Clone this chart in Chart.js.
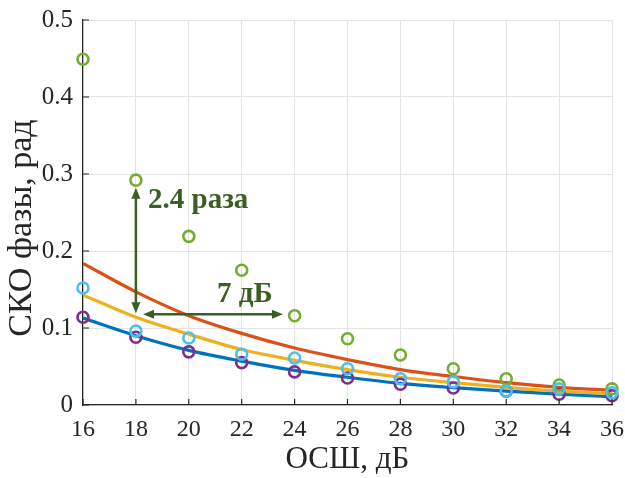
<!DOCTYPE html>
<html>
<head>
<meta charset="utf-8">
<script src="https://cdn.jsdelivr.net/npm/chart.js@4/dist/chart.umd.min.js"></script>
<style>
  html, body { margin: 0; padding: 0; background: #fff; }
  #wrap { width: 625px; height: 478px; }
</style>
</head>
<body>
<div id="wrap"><canvas id="chart"></canvas></div>
<script>
// SNR grid, dB
const snr = [16, 18, 20, 22, 24, 26, 28, 30, 32, 34, 36];

// theoretical curves
const curveRed    = [0.184, 0.147, 0.116, 0.093, 0.074, 0.059, 0.046, 0.037, 0.029, 0.023, 0.019];
const curveYellow = [0.143, 0.114, 0.092, 0.072, 0.058, 0.046, 0.036, 0.029, 0.023, 0.018, 0.0145];
const curveBlue   = [0.113, 0.090, 0.071, 0.057, 0.045, 0.036, 0.028, 0.0225, 0.018, 0.014, 0.011];

// simulated points
const simGreen  = [0.449, 0.292, 0.219, 0.175, 0.116, 0.086, 0.065, 0.047, 0.034, 0.026, 0.021];
const simCyan   = [0.152, 0.096, 0.087, 0.066, 0.061, 0.047, 0.034, 0.030, 0.018, 0.021, 0.016];
const simPurple = [0.114, 0.088, 0.069, 0.055, 0.043, 0.035, 0.027, 0.022, 0.018, 0.014, 0.012];

const yTicks = [0, 0.1, 0.2, 0.3, 0.4, 0.5];

const pts = arr => arr.map((v, i) => ({ x: snr[i], y: v }));
const serif = "'Liberation Serif', 'Times New Roman', serif";
const ink = '#262626';
const annColor = '#3b5e23';

function line(data, color) {
  return {
    type: 'line', data: pts(data), borderColor: color, borderWidth: 3.2,
    pointRadius: 0, tension: 0.4, cubicInterpolationMode: 'monotone', order: 5
  };
}
function marks(data, color, order) {
  return {
    type: 'scatter', data: pts(data), borderColor: color, backgroundColor: 'rgba(0,0,0,0)',
    pointRadius: 5.5, pointBorderWidth: 2.6, showLine: false, order: order, clip: false
  };
}

// inward tick marks on both axes, plus the y axis title
const axisExtras = {
  id: 'axisExtras',
  afterDraw(chart) {
    const { ctx, scales: { x, y } } = chart;
    ctx.save();
    ctx.strokeStyle = ink;
    ctx.lineWidth = 1.2;
    ctx.beginPath();
    snr.forEach(v => {
      const px = x.getPixelForValue(v);
      ctx.moveTo(px, y.bottom);
      ctx.lineTo(px, y.bottom - 6);
    });
    yTicks.forEach(v => {
      const py = y.getPixelForValue(v);
      ctx.moveTo(x.left, py);
      ctx.lineTo(x.left + 6, py);
    });
    ctx.stroke();

    ctx.translate(22, 228);
    ctx.rotate(-Math.PI / 2);
    ctx.fillStyle = ink;
    ctx.font = '34px ' + serif;
    ctx.textAlign = 'center';
    ctx.textBaseline = 'middle';
    ctx.fillText('СКО фазы, рад', 0, 0);
    ctx.restore();
  }
};

// annotation arrows and labels
const arrows = {
  id: 'arrows',
  afterDatasetsDraw(chart) {
    const { ctx, scales: { x, y } } = chart;
    const head = (x0, y0, ang) => {
      ctx.save();
      ctx.translate(x0, y0);
      ctx.rotate(ang);
      ctx.beginPath();
      ctx.moveTo(0, 0);
      ctx.lineTo(-11, -4.5);
      ctx.lineTo(-11, 4.5);
      ctx.closePath();
      ctx.fill();
      ctx.restore();
    };
    ctx.save();
    ctx.strokeStyle = annColor;
    ctx.fillStyle = annColor;
    ctx.lineWidth = 2.5;

    // vertical: 2.4 times
    const vx = x.getPixelForValue(18);
    const vTop = y.getPixelForValue(0.282), vBot = y.getPixelForValue(0.119);
    ctx.beginPath();
    ctx.moveTo(vx, vTop + 8);
    ctx.lineTo(vx, vBot - 8);
    ctx.stroke();
    head(vx, vTop, -Math.PI / 2);
    head(vx, vBot, Math.PI / 2);

    // horizontal: 7 dB
    const hy = y.getPixelForValue(0.118);
    const hL = x.getPixelForValue(18.27), hR = x.getPixelForValue(23.56);
    ctx.beginPath();
    ctx.moveTo(hL + 8, hy);
    ctx.lineTo(hR - 8, hy);
    ctx.stroke();
    head(hL, hy, Math.PI);
    head(hR, hy, 0);

    ctx.font = 'bold 29px ' + serif;
    ctx.textBaseline = 'middle';
    ctx.textAlign = 'left';
    ctx.fillText('2.4 раза', x.getPixelForValue(18.46), y.getPixelForValue(0.266));
    ctx.textAlign = 'center';
    ctx.fillText('7 дБ', x.getPixelForValue(22.12), y.getPixelForValue(0.143));
    ctx.restore();
  }
};

new Chart(document.getElementById('chart'), {
  data: {
    datasets: [
      line(curveRed, '#D95319'),
      line(curveYellow, '#EDB120'),
      line(curveBlue, '#0072BD'),
      marks(simPurple, '#7E2F8E', 3),
      marks(simGreen, '#77AC30', 2),
      marks(simCyan, '#4DBEEE', 1)
    ]
  },
  options: {
    responsive: true,
    maintainAspectRatio: false,
    animation: false,
    layout: { padding: { top: 20, right: 13, left: 0, bottom: 0 } },
    plugins: { legend: { display: false }, tooltip: { enabled: false } },
    scales: {
      x: {
        type: 'linear', min: 16, max: 36,
        afterBuildTicks: s => { s.ticks = snr.map(v => ({ value: v })); },
        afterFit: s => { s.height = 73; s.paddingLeft = 0; s.paddingRight = 0; },
        grid: { color: '#e3e3e3', lineWidth: 1, drawTicks: false },
        border: { color: ink, width: 1.2 },
        ticks: { color: ink, font: { family: serif, size: 24 }, padding: 10, maxRotation: 0 },
        title: { display: true, text: 'ОСШ, дБ', color: ink, font: { family: serif, size: 31 }, padding: { top: 0, bottom: 0 } }
      },
      y: {
        type: 'linear', min: 0, max: 0.5,
        afterBuildTicks: s => { s.ticks = yTicks.map(v => ({ value: v })); },
        afterFit: s => { s.width = 83; s.paddingTop = 0; s.paddingBottom = 0; },
        grid: { color: '#e3e3e3', lineWidth: 1, drawTicks: false },
        border: { color: ink, width: 1.2 },
        ticks: { color: ink, font: { family: serif, size: 25 }, padding: 10 }
      }
    }
  },
  plugins: [axisExtras, arrows]
});
</script>
</body>
</html>
